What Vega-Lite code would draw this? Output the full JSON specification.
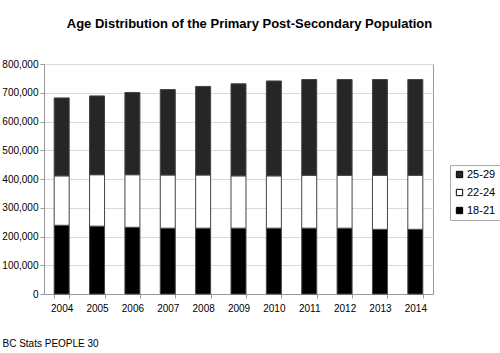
{
  "$schema": "https://vega.github.io/schema/vega-lite/v6.json",
  "autosize": {"type": "none"},
  "width": 389,
  "height": 230,
  "padding": {"left": 44, "top": 64, "right": 67, "bottom": 59},
  "background": "white",
  "title": {
    "text": "Age Distribution of the Primary Post-Secondary Population",
    "font": "Liberation Sans",
    "fontSize": 13,
    "fontWeight": "bold",
    "color": "#000",
    "anchor": "middle",
    "frame": "group",
    "dx": 11,
    "offset": 28
  },
  "data": {
    "values": [
      {"year": "2004", "group": "18-21", "value": 239000},
      {"year": "2004", "group": "22-24", "value": 172000},
      {"year": "2004", "group": "25-29", "value": 271000},
      {"year": "2005", "group": "18-21", "value": 236000},
      {"year": "2005", "group": "22-24", "value": 179000},
      {"year": "2005", "group": "25-29", "value": 274000},
      {"year": "2006", "group": "18-21", "value": 232000},
      {"year": "2006", "group": "22-24", "value": 183000},
      {"year": "2006", "group": "25-29", "value": 286000},
      {"year": "2007", "group": "18-21", "value": 229000},
      {"year": "2007", "group": "22-24", "value": 185000},
      {"year": "2007", "group": "25-29", "value": 297000},
      {"year": "2008", "group": "18-21", "value": 229000},
      {"year": "2008", "group": "22-24", "value": 185000},
      {"year": "2008", "group": "25-29", "value": 308000},
      {"year": "2009", "group": "18-21", "value": 229000},
      {"year": "2009", "group": "22-24", "value": 182000},
      {"year": "2009", "group": "25-29", "value": 320000},
      {"year": "2010", "group": "18-21", "value": 229000},
      {"year": "2010", "group": "22-24", "value": 182000},
      {"year": "2010", "group": "25-29", "value": 330000},
      {"year": "2011", "group": "18-21", "value": 229000},
      {"year": "2011", "group": "22-24", "value": 184000},
      {"year": "2011", "group": "25-29", "value": 333000},
      {"year": "2012", "group": "18-21", "value": 229000},
      {"year": "2012", "group": "22-24", "value": 184000},
      {"year": "2012", "group": "25-29", "value": 333000},
      {"year": "2013", "group": "18-21", "value": 225000},
      {"year": "2013", "group": "22-24", "value": 188000},
      {"year": "2013", "group": "25-29", "value": 333000},
      {"year": "2014", "group": "18-21", "value": 225000},
      {"year": "2014", "group": "22-24", "value": 188000},
      {"year": "2014", "group": "25-29", "value": 333000}
    ]
  },
  "mark": {"type": "bar", "stroke": "#444", "strokeWidth": 1},
  "encoding": {
    "x": {
      "field": "year",
      "type": "ordinal",
      "scale": {"paddingInner": 0.576, "paddingOuter": 0.288},
      "axis": {
        "title": "BC Stats PEOPLE 30",
        "titleFont": "Liberation Sans",
        "titleFontSize": 10,
        "titleFontWeight": "normal",
        "titleColor": "#000",
        "titleAnchor": "start",
        "titleAlign": "left",
        "titleBaseline": "alphabetic",
        "titleX": -42,
        "titleY": 52,
        "labelAngle": 0,
        "labelFont": "Liberation Sans",
        "labelFontSize": 10,
        "labelColor": "#000",
        "labelPadding": 5,
        "tickBand": "extent",
        "tickSize": 4,
        "tickColor": "#999",
        "domainColor": "#999",
        "grid": false
      }
    },
    "y": {
      "field": "value",
      "type": "quantitative",
      "stack": "zero",
      "scale": {"domain": [0, 800000], "nice": false},
      "axis": {
        "title": null,
        "tickCount": 8,
        "labelExpr": "format(datum.value, ',')",
        "labelFont": "Liberation Sans",
        "labelFontSize": 10,
        "labelColor": "#000",
        "labelPadding": 2,
        "tickSize": 4,
        "tickColor": "#999",
        "domainColor": "#999",
        "gridColor": "#d9d9d9"
      }
    },
    "color": {
      "field": "group",
      "type": "nominal",
      "scale": {"domain": ["25-29", "22-24", "18-21"], "range": ["#262626", "#ffffff", "#000000"]},
      "legend": {
        "title": null,
        "orient": "none",
        "legendX": 406,
        "legendY": 101,
        "padding": 4,
        "rowPadding": 6,
        "strokeColor": "#aaa",
        "fillColor": "white",
        "symbolType": "square",
        "symbolSize": 40,
        "symbolStrokeColor": "#000",
        "symbolStrokeWidth": 1,
        "symbolOpacity": 1,
        "labelFont": "Liberation Sans",
        "labelFontSize": 11,
        "labelColor": "#000",
        "labelOffset": 2
      }
    },
    "order": {"field": "group", "sort": "ascending"}
  },
  "config": {
    "view": {"stroke": "#999"},
    "axis": {"labelFont": "Liberation Sans"}
  }
}
